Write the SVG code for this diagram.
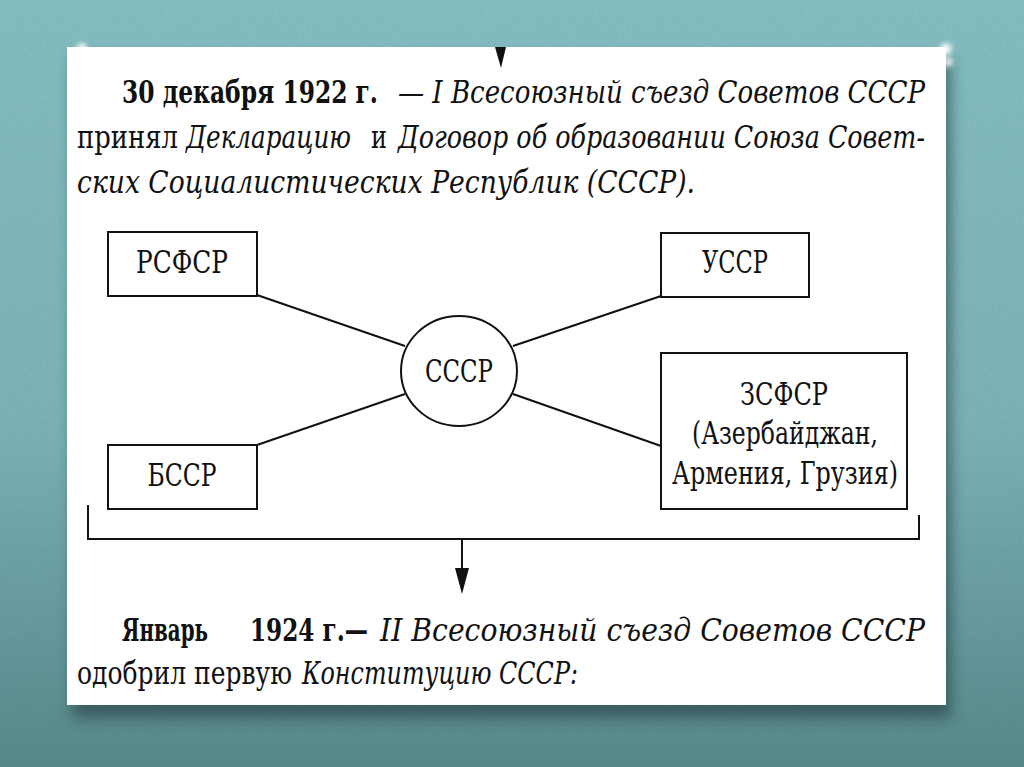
<svg xmlns="http://www.w3.org/2000/svg" width="1024" height="767" viewBox="0 0 1024 767">
<style>
.t{font-family:"DejaVu Serif Condensed","DejaVu Serif","Liberation Serif",serif;font-size:31px;fill:#111}
.b{font-weight:bold}
.i{font-style:italic}
.box{fill:#fff;stroke:#111;stroke-width:2}
.ln{stroke:#111;stroke-width:2;fill:none}
.lbl{font-family:"DejaVu Serif Condensed","DejaVu Serif","Liberation Serif",serif;font-size:31px;fill:#111;text-anchor:middle}
</style>
<defs>
<linearGradient id="bg" x1="0" y1="0" x2="0" y2="1">
<stop offset="0" stop-color="#8fc4c9"/>
<stop offset="0.55" stop-color="#86b9be"/>
<stop offset="1" stop-color="#5f8a8e"/>
</linearGradient>
<filter id="noise" x="0" y="0" width="100%" height="100%">
<feTurbulence type="fractalNoise" baseFrequency="0.8" numOctaves="2" seed="4"/>
<feColorMatrix type="matrix" values="0 0 0 0 0  0 0 0 0 0.1  0 0 0 0 0.1  0 0 0 0.18 0"/>
</filter>
<filter id="shadow" x="-10%" y="-10%" width="120%" height="125%">
<feGaussianBlur stdDeviation="7"/>
</filter>
<filter id="glow" x="-100%" y="-100%" width="300%" height="300%">
<feGaussianBlur stdDeviation="2.5"/>
</filter>
</defs>

<g id="background">
<rect x="0" y="0" width="1024" height="767" fill="url(#bg)"/>
<rect x="0" y="0" width="1024" height="767" filter="url(#noise)"/>
<rect x="72" y="58" width="879" height="660" fill="#1d3436" opacity="0.55" filter="url(#shadow)"/>
<circle cx="82" cy="48" r="5" fill="#fff" opacity="0.9" filter="url(#glow)"/>
<circle cx="946" cy="49" r="6" fill="#fff" opacity="0.9" filter="url(#glow)"/>
<circle cx="948" cy="62" r="5" fill="#fff" opacity="0.8" filter="url(#glow)"/>
</g>

<g id="card">
<rect x="67" y="47" width="879" height="658" fill="#fff"/>
<polygon points="495,47 506,47 501,68" fill="#111"/>
</g>

<g id="header-text">
<text class="t b" x="122" y="103" textLength="256" lengthAdjust="spacingAndGlyphs">30 декабря 1922 г.</text>
<text class="t i" x="398" y="103" textLength="527" lengthAdjust="spacingAndGlyphs">— I Всесоюзный  съезд  Советов  СССР</text>
<text class="t" x="77" y="148" textLength="101" lengthAdjust="spacingAndGlyphs">принял</text>
<text class="t i" x="186" y="148" textLength="165" lengthAdjust="spacingAndGlyphs">Декларацию</text>
<text class="t" x="371" y="148" textLength="16" lengthAdjust="spacingAndGlyphs">и</text>
<text class="t i" x="398" y="148" textLength="527" lengthAdjust="spacingAndGlyphs">Договор об образовании Союза Совет-</text>
<text class="t i" x="77" y="193" textLength="618" lengthAdjust="spacingAndGlyphs">ских Социалистических Республик (СССР).</text>
</g>

<g id="connectors">
<line class="ln" x1="257" y1="295" x2="405" y2="346"/>
<line class="ln" x1="661" y1="296" x2="513" y2="346"/>
<line class="ln" x1="257" y1="445" x2="405" y2="394"/>
<line class="ln" x1="661" y1="446" x2="513" y2="394"/>
<polyline class="ln" points="88,505 88,539 919,539 919,515"/>
<line class="ln" x1="462" y1="539" x2="462" y2="572"/>
<polygon points="455,568 469,568 462,594" fill="#111"/>
</g>

<g id="node-rsfsr">
<rect class="box" x="108" y="232" width="149" height="64"/>
<text class="lbl" x="182" y="273" textLength="92" lengthAdjust="spacingAndGlyphs">РСФСР</text>
</g>
<g id="node-ussr">
<rect class="box" x="661" y="233" width="148" height="64"/>
<text class="lbl" x="735" y="273" textLength="66" lengthAdjust="spacingAndGlyphs">УССР</text>
</g>
<g id="node-bssr">
<rect class="box" x="108" y="445" width="149" height="64"/>
<text class="lbl" x="182" y="486" textLength="69" lengthAdjust="spacingAndGlyphs">БССР</text>
</g>
<g id="node-zsfsr">
<rect class="box" x="661" y="353" width="246" height="156"/>
<text class="lbl" x="784" y="405" textLength="88" lengthAdjust="spacingAndGlyphs">ЗСФСР</text>
<text class="lbl" x="785" y="444" textLength="186" lengthAdjust="spacingAndGlyphs">(Азербайджан,</text>
<text class="lbl" x="785" y="484" textLength="226" lengthAdjust="spacingAndGlyphs">Армения, Грузия)</text>
</g>
<g id="node-sssr">
<ellipse class="box" cx="459" cy="371" rx="58" ry="55"/>
<text class="lbl" x="459" y="382" textLength="68" lengthAdjust="spacingAndGlyphs">СССР</text>
</g>

<g id="footer-text">
<text class="t b" x="122" y="641" textLength="86" lengthAdjust="spacingAndGlyphs">Январь</text>
<text class="t b" x="250" y="641" textLength="118" lengthAdjust="spacingAndGlyphs">1924 г.—</text>
<text class="t i" x="380" y="641" textLength="545" lengthAdjust="spacingAndGlyphs">II Всесоюзный   съезд   Советов   СССР</text>
<text class="t" x="77" y="684" textLength="215" lengthAdjust="spacingAndGlyphs">одобрил первую</text>
<text class="t i" x="302" y="684" textLength="276" lengthAdjust="spacingAndGlyphs">Конституцию СССР:</text>
</g>
</svg>
